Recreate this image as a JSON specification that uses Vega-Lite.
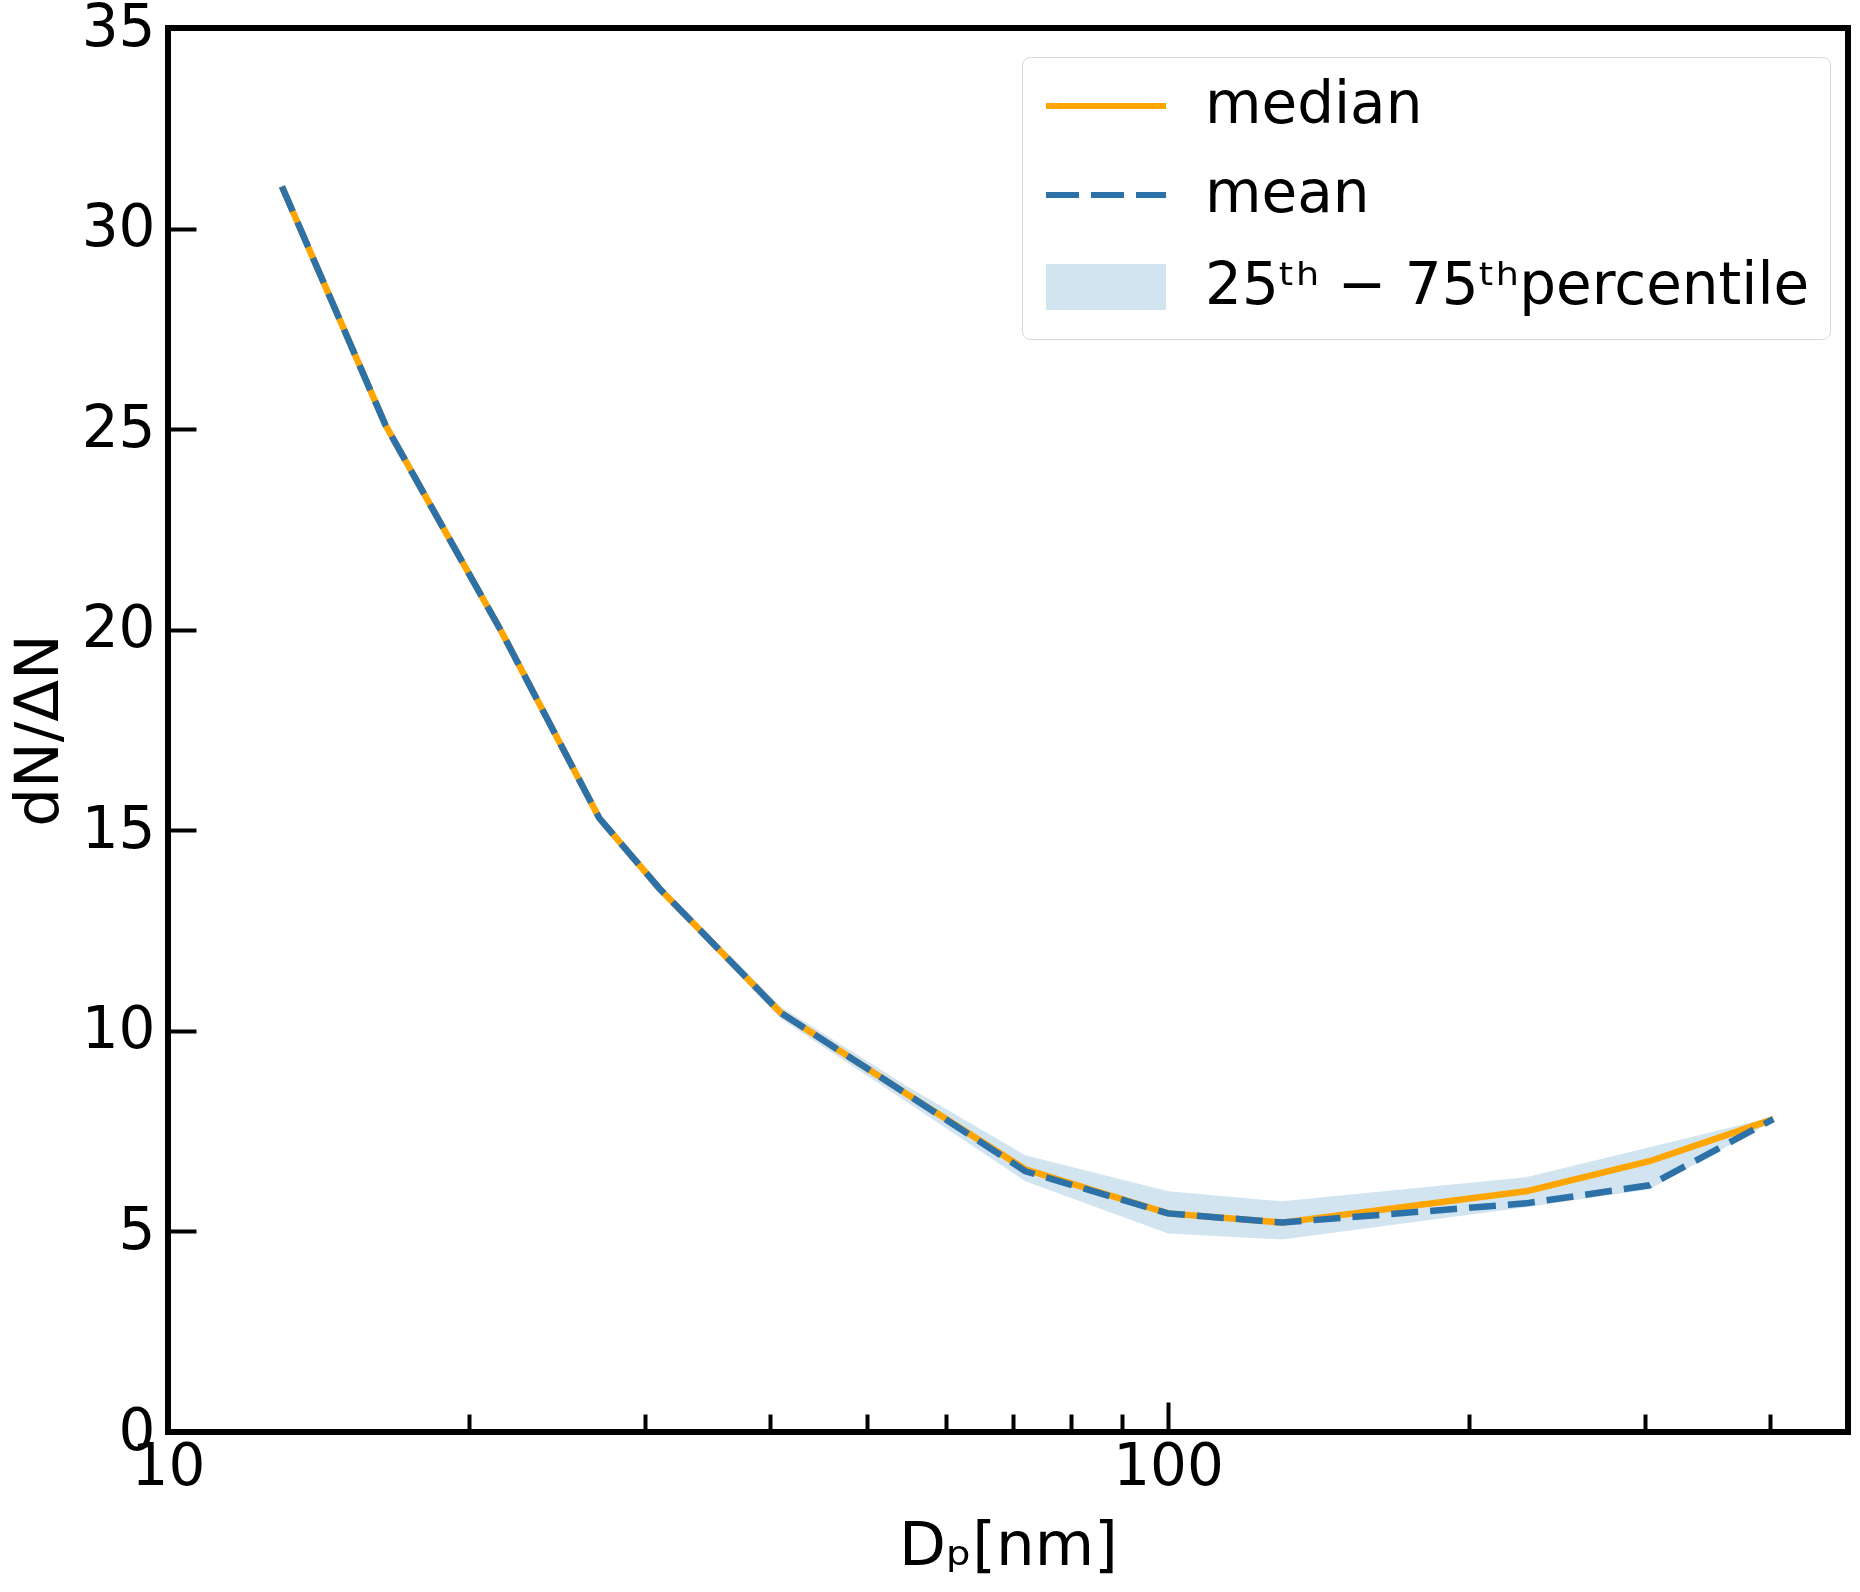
{
  "$schema": "https://vega.github.io/schema/vega-lite/v6.json",
  "width": 1680,
  "height": 1404,
  "autosize": {"type": "none"},
  "padding": {"left": 168, "top": 28, "right": 12, "bottom": 160},
  "background": "white",
  "datasets": {
    "lines": [
      {"Dp": 13, "stat": "median", "value": 31.05},
      {"Dp": 16.5, "stat": "median", "value": 25.1},
      {"Dp": 21.5, "stat": "median", "value": 20.0},
      {"Dp": 27, "stat": "median", "value": 15.3},
      {"Dp": 31, "stat": "median", "value": 13.55},
      {"Dp": 41, "stat": "median", "value": 10.45},
      {"Dp": 55, "stat": "median", "value": 8.4},
      {"Dp": 72, "stat": "median", "value": 6.55},
      {"Dp": 100, "stat": "median", "value": 5.45},
      {"Dp": 130, "stat": "median", "value": 5.22},
      {"Dp": 228, "stat": "median", "value": 6.0},
      {"Dp": 303, "stat": "median", "value": 6.75},
      {"Dp": 403, "stat": "median", "value": 7.8},
      {"Dp": 13, "stat": "mean", "value": 31.05},
      {"Dp": 16.5, "stat": "mean", "value": 25.1},
      {"Dp": 21.5, "stat": "mean", "value": 20.0},
      {"Dp": 27, "stat": "mean", "value": 15.3},
      {"Dp": 31, "stat": "mean", "value": 13.55},
      {"Dp": 41, "stat": "mean", "value": 10.45},
      {"Dp": 55, "stat": "mean", "value": 8.4},
      {"Dp": 72, "stat": "mean", "value": 6.5},
      {"Dp": 100, "stat": "mean", "value": 5.45},
      {"Dp": 130, "stat": "mean", "value": 5.22},
      {"Dp": 228, "stat": "mean", "value": 5.7},
      {"Dp": 303, "stat": "mean", "value": 6.15},
      {"Dp": 403, "stat": "mean", "value": 7.8}
    ],
    "band": [
      {"Dp": 13, "p25": 31.0, "p75": 31.1},
      {"Dp": 16.5, "p25": 25.05, "p75": 25.15},
      {"Dp": 21.5, "p25": 19.95, "p75": 20.05},
      {"Dp": 27, "p25": 15.2, "p75": 15.4},
      {"Dp": 31, "p25": 13.45, "p75": 13.65},
      {"Dp": 41, "p25": 10.3, "p75": 10.6},
      {"Dp": 55, "p25": 8.2, "p75": 8.6},
      {"Dp": 72, "p25": 6.25, "p75": 6.9},
      {"Dp": 100, "p25": 4.95, "p75": 6.0},
      {"Dp": 130, "p25": 4.8, "p75": 5.75},
      {"Dp": 228, "p25": 5.6, "p75": 6.35},
      {"Dp": 303, "p25": 6.05, "p75": 7.1},
      {"Dp": 403, "p25": 7.75, "p75": 7.85}
    ]
  },
  "encoding": {
    "x": {
      "field": "Dp",
      "type": "quantitative",
      "scale": {"type": "log", "domain": [10, 478.6], "nice": false},
      "axis": {
        "title": "Dₚ[nm]",
        "values": [10, 20, 30, 40, 50, 60, 70, 80, 90, 100, 200, 300, 400],
        "labelExpr": "datum.value == 10 || datum.value == 100 ? format(datum.value, 'd') : ''",
        "tickSize": {"condition": {"test": "datum.value == 10 || datum.value == 100", "value": -30}, "value": -18},
        "labelPadding": 36,
        "titlePadding": 8
      }
    }
  },
  "layer": [
    {
      "data": {"name": "band"},
      "mark": {"type": "area", "opacity": 1},
      "encoding": {
        "y": {"field": "p25", "type": "quantitative"},
        "y2": {"field": "p75"},
        "color": {"datum": "25ᵗʰ − 75ᵗʰpercentile"}
      }
    },
    {
      "data": {"name": "lines"},
      "transform": [{"filter": "datum.stat === 'median'"}],
      "mark": {"type": "line", "strokeWidth": 6.5},
      "encoding": {
        "y": {"field": "value", "type": "quantitative"},
        "color": {"field": "stat", "type": "nominal"}
      }
    },
    {
      "data": {"name": "lines"},
      "transform": [{"filter": "datum.stat === 'mean'"}],
      "mark": {"type": "line", "strokeWidth": 6.5, "strokeDash": [27, 12]},
      "encoding": {
        "y": {
          "field": "value",
          "type": "quantitative",
          "scale": {"domain": [0, 35], "nice": false},
          "axis": {
            "title": "dN/ΔN",
            "values": [0, 5, 10, 15, 20, 25, 30, 35],
            "tickSize": -28,
            "labelPadding": 41,
            "titlePadding": 11
          }
        },
        "color": {
          "field": "stat",
          "type": "nominal",
          "scale": {
            "domain": ["median", "mean", "25ᵗʰ − 75ᵗʰpercentile"],
            "range": ["#ffa500", "#2c71a8", "#d2e4f0"]
          },
          "legend": {
            "title": null,
            "orient": "none",
            "legendX": 854,
            "legendY": 29,
            "labelFont": "DejaVu Sans",
            "labelFontSize": 58,
            "labelColor": "black",
            "labelLimit": 0,
            "labelOffset": 70,
            "symbolOffset": 35,
            "symbolSize": 1600,
            "symbolStrokeWidth": 6,
            "rowPadding": 31,
            "padding": 20,
            "strokeColor": "#d9d9d9",
            "fillColor": "white",
            "cornerRadius": 8,
            "encode": {
              "symbols": {
                "update": {
                  "shape": {"signal": "datum.value === 'median' || datum.value === 'mean' ? 'M-3,0H3' : 'M-2.85,-1H2.85V1H-2.85Z'"},
                  "fill": {"signal": "datum.value === 'median' || datum.value === 'mean' ? 'transparent' : '#d2e4f0'"},
                  "stroke": {"signal": "datum.value === 'median' ? '#ffa500' : datum.value === 'mean' ? '#2c71a8' : 'transparent'"},
                  "strokeDash": {"signal": "datum.value === 'mean' ? [33, 12] : []"},
                  "strokeWidth": {"value": 6},
                  "opacity": {"value": 1}
                }
              }
            }
          }
        }
      }
    }
  ],
  "config": {
    "view": {"stroke": "black", "strokeWidth": 6},
    "axis": {
      "domain": false,
      "grid": false,
      "labelFont": "DejaVu Sans",
      "labelFontSize": 58,
      "labelColor": "black",
      "labelFlush": false,
      "labelOverlap": false,
      "titleFont": "DejaVu Sans",
      "titleFontSize": 61,
      "titleFontWeight": "normal",
      "titleColor": "black",
      "tickColor": "black",
      "tickWidth": 4
    }
  }
}
